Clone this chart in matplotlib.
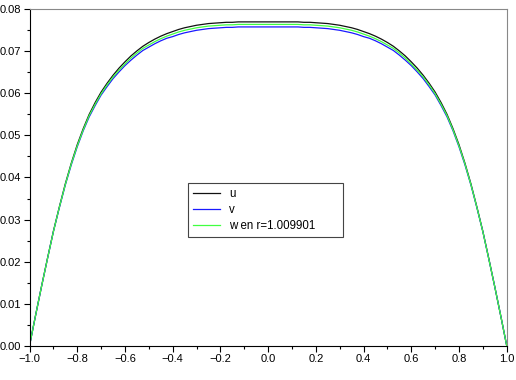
import numpy as np
import matplotlib
matplotlib.use("Agg")
import matplotlib.pyplot as plt
from matplotlib.ticker import MultipleLocator

plt.rcParams['font.family'] = ['Liberation Sans', 'DejaVu Sans']

# values, x from -1 to 1 by 0.025 (left half, mirrored)
x = np.round(np.linspace(-1.0, 1.0, 81), 3)
u_half = [0, 0.0071, 0.0140, 0.0207, 0.0272, 0.0330, 0.0385, 0.0434, 0.0478, 0.0516,
          0.0550, 0.0578, 0.0603, 0.0624, 0.0643, 0.0660, 0.0675, 0.0689, 0.0701, 0.0712,
          0.0721, 0.0729, 0.0736, 0.0742, 0.0747, 0.0752, 0.0756, 0.0759, 0.0762, 0.0764,
          0.0766, 0.0767, 0.0768, 0.0769, 0.0769, 0.0770, 0.0770, 0.0770, 0.0770, 0.0770, 0.0770]
v_half = [0, 0.0071, 0.0140, 0.0206, 0.0271, 0.0328, 0.0382, 0.0430, 0.0473, 0.0511,
          0.0544, 0.0571, 0.0596, 0.0616, 0.0635, 0.0651, 0.0666, 0.0679, 0.0691, 0.0702,
          0.0710, 0.0718, 0.0725, 0.0731, 0.0735, 0.0740, 0.0744, 0.0747, 0.0750, 0.0752,
          0.0754, 0.0755, 0.0756, 0.0757, 0.0757, 0.0758, 0.0758, 0.0758, 0.0758, 0.0758, 0.0758]
w_half = [0, 0.0071, 0.0140, 0.0206, 0.0271, 0.0329, 0.0383, 0.0432, 0.0475, 0.0513,
          0.0547, 0.0574, 0.0599, 0.0620, 0.0639, 0.0655, 0.0670, 0.0684, 0.0696, 0.0707,
          0.0715, 0.0723, 0.0730, 0.0736, 0.0741, 0.0746, 0.0750, 0.0753, 0.0756, 0.0758,
          0.0760, 0.0761, 0.0762, 0.0763, 0.0763, 0.0764, 0.0764, 0.0764, 0.0764, 0.0764, 0.0764]
u = u_half + u_half[-2::-1]
v = v_half + v_half[-2::-1]
w = w_half + w_half[-2::-1]
labels = ['u', 'v', 'w en r=1.009901']

fig = plt.figure(figsize=(5.16, 3.80), dpi=100)
ax = fig.add_axes([0.0572, 0.0903, 0.9248, 0.8853])

ax.plot(x, u, color='#111111', lw=0.9, label=labels[0])
ax.plot(x, v, color='#1a1aff', lw=0.9, label=labels[1])
ax.plot(x, w, color='#40ff40', lw=0.9, label=labels[2])

ax.set_xlim(-1, 1)
ax.set_ylim(0, 0.08)
ax.xaxis.set_major_locator(MultipleLocator(0.2))
ax.xaxis.set_minor_locator(MultipleLocator(0.1))
ax.yaxis.set_major_locator(MultipleLocator(0.01))
ax.yaxis.set_minor_locator(MultipleLocator(0.005))
ax.xaxis.set_major_formatter(plt.FuncFormatter(lambda v, p: ('%.1f' % v).replace('-', '\u2212')))
ax.yaxis.set_major_formatter(plt.FuncFormatter(lambda v, p: '%.2f' % v))
ax.tick_params(which='major', direction='out', length=4, width=0.8, labelsize=8, pad=2)
ax.tick_params(which='minor', direction='out', length=2.5, width=0.8)
ax.tick_params(top=False, right=False, which='both')
for s in ['top', 'right']:
    ax.spines[s].set_color('#888888')
for s in ['left', 'bottom']:
    ax.spines[s].set_color('black')

leg = ax.legend(loc='lower left', bbox_to_anchor=(0.332, 0.323, 0.325, 0.155), mode='expand',
                borderaxespad=0, fancybox=False, framealpha=1, edgecolor='#444444',
                fontsize=8.3, handlelength=2.3, handletextpad=0.8, labelspacing=0.35,
                borderpad=0.45)
leg.get_frame().set_linewidth(0.8)

fig.savefig('out.png', dpi=100)
